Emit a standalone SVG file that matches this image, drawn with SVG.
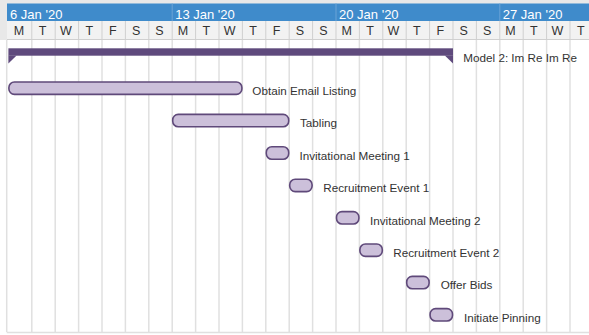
<svg xmlns="http://www.w3.org/2000/svg" width="589" height="335" viewBox="0 0 589 335">
<style>
.wk{font-family:"Liberation Sans",Arial,sans-serif;font-size:13px;fill:#ffffff}
.dy{font-family:"Liberation Sans",Arial,sans-serif;font-size:12.5px;fill:#333333;text-anchor:middle}
.lb{font-family:"Liberation Sans",Arial,sans-serif;font-size:11.7px;fill:#333333}
.grid line{stroke:#e0e0e0;stroke-width:1.5}
.hsep line{stroke:#cfcfcf;stroke-width:1}
.wsep line{stroke:#6aa3d6;stroke-width:1}
.task{fill:#ccc0da;stroke:#5f497a;stroke-width:1.6}
.sum{fill:#5f4a7d}
</style>
<rect x="0" y="0" width="589" height="335" fill="#ffffff"/>
<g id="header">
<rect x="0" y="0" width="589" height="40" fill="#e8e8e8"/>
<rect x="7" y="3.5" width="582" height="17.5" fill="#3f8bcb"/>
<rect x="7" y="21" width="582" height="18.5" fill="#f2f2f2"/>
<line x1="7" y1="39.5" x2="589" y2="39.5" stroke="#d0d0d0" stroke-width="1"/>
<g class="wsep">
<line x1="172.2" y1="3.5" x2="172.2" y2="21"/>
<line x1="336" y1="3.5" x2="336" y2="21"/>
<line x1="499.8" y1="3.5" x2="499.8" y2="21"/>
</g>
<g class="hsep">
<line x1="31.8" y1="21" x2="31.8" y2="39.5"/><line x1="55.2" y1="21" x2="55.2" y2="39.5"/><line x1="78.6" y1="21" x2="78.6" y2="39.5"/><line x1="102" y1="21" x2="102" y2="39.5"/><line x1="125.4" y1="21" x2="125.4" y2="39.5"/><line x1="148.8" y1="21" x2="148.8" y2="39.5"/><line x1="172.2" y1="21" x2="172.2" y2="39.5"/><line x1="195.6" y1="21" x2="195.6" y2="39.5"/><line x1="219" y1="21" x2="219" y2="39.5"/><line x1="242.4" y1="21" x2="242.4" y2="39.5"/><line x1="265.8" y1="21" x2="265.8" y2="39.5"/><line x1="289.2" y1="21" x2="289.2" y2="39.5"/><line x1="312.6" y1="21" x2="312.6" y2="39.5"/><line x1="336" y1="21" x2="336" y2="39.5"/><line x1="359.4" y1="21" x2="359.4" y2="39.5"/><line x1="382.8" y1="21" x2="382.8" y2="39.5"/><line x1="406.2" y1="21" x2="406.2" y2="39.5"/><line x1="429.6" y1="21" x2="429.6" y2="39.5"/><line x1="453" y1="21" x2="453" y2="39.5"/><line x1="476.4" y1="21" x2="476.4" y2="39.5"/><line x1="499.8" y1="21" x2="499.8" y2="39.5"/><line x1="523.2" y1="21" x2="523.2" y2="39.5"/><line x1="546.6" y1="21" x2="546.6" y2="39.5"/><line x1="570" y1="21" x2="570" y2="39.5"/>
</g>
<text class="wk" x="10" y="18.5">6 Jan '20</text>
<text class="wk" x="175.2" y="18.5">13 Jan '20</text>
<text class="wk" x="339" y="18.5">20 Jan '20</text>
<text class="wk" x="502.8" y="18.5">27 Jan '20</text>
<text class="dy" x="19" y="35">M</text><text class="dy" x="42.5" y="35">T</text><text class="dy" x="65.9" y="35">W</text><text class="dy" x="89.3" y="35">T</text><text class="dy" x="112.7" y="35">F</text><text class="dy" x="136.1" y="35">S</text><text class="dy" x="159.5" y="35">S</text>
<text class="dy" x="182.9" y="35">M</text><text class="dy" x="206.3" y="35">T</text><text class="dy" x="229.7" y="35">W</text><text class="dy" x="253.1" y="35">T</text><text class="dy" x="276.5" y="35">F</text><text class="dy" x="299.9" y="35">S</text><text class="dy" x="323.3" y="35">S</text>
<text class="dy" x="346.7" y="35">M</text><text class="dy" x="370.1" y="35">T</text><text class="dy" x="393.5" y="35">W</text><text class="dy" x="416.9" y="35">T</text><text class="dy" x="440.3" y="35">F</text><text class="dy" x="463.7" y="35">S</text><text class="dy" x="487.1" y="35">S</text>
<text class="dy" x="510.5" y="35">M</text><text class="dy" x="533.9" y="35">T</text><text class="dy" x="557.3" y="35">W</text><text class="dy" x="580.7" y="35">T</text>
</g>
<g id="grid" class="grid">
<line x1="6.7" y1="40" x2="6.7" y2="332"/>
<line x1="31.8" y1="40" x2="31.8" y2="332"/><line x1="55.2" y1="40" x2="55.2" y2="332"/><line x1="78.6" y1="40" x2="78.6" y2="332"/><line x1="102" y1="40" x2="102" y2="332"/><line x1="125.4" y1="40" x2="125.4" y2="332"/><line x1="148.8" y1="40" x2="148.8" y2="332"/><line x1="172.2" y1="40" x2="172.2" y2="332"/><line x1="195.6" y1="40" x2="195.6" y2="332"/><line x1="219" y1="40" x2="219" y2="332"/><line x1="242.4" y1="40" x2="242.4" y2="332"/><line x1="265.8" y1="40" x2="265.8" y2="332"/><line x1="289.2" y1="40" x2="289.2" y2="332"/><line x1="312.6" y1="40" x2="312.6" y2="332"/><line x1="336" y1="40" x2="336" y2="332"/><line x1="359.4" y1="40" x2="359.4" y2="332"/><line x1="382.8" y1="40" x2="382.8" y2="332"/><line x1="406.2" y1="40" x2="406.2" y2="332"/><line x1="429.6" y1="40" x2="429.6" y2="332"/><line x1="453" y1="40" x2="453" y2="332"/><line x1="476.4" y1="40" x2="476.4" y2="332"/><line x1="499.8" y1="40" x2="499.8" y2="332"/><line x1="523.2" y1="40" x2="523.2" y2="332"/><line x1="546.6" y1="40" x2="546.6" y2="332"/><line x1="570" y1="40" x2="570" y2="332"/>
<line x1="6.7" y1="332.5" x2="589" y2="332.5" stroke="#d8d8d8"/>
</g>
<g id="summary">
<rect class="sum" x="8.4" y="48.3" width="444.6" height="7.4"/>
<polygon class="sum" points="8.4,55.5 8.4,63.5 16.6,55.5"/>
<polygon class="sum" points="453,55.5 453,63.5 444.8,55.5"/>
<text class="lb" x="463.3" y="61.7">Model 2: Im Re Im Re</text>
</g>
<g id="obtain-email-listing">
<rect class="task" x="8.9" y="82" width="233" height="12.4" rx="5.5"/>
<text class="lb" x="252.3" y="95">Obtain Email Listing</text>
</g>
<g id="tabling">
<rect class="task" x="172.7" y="114.4" width="116" height="12.4" rx="5.5"/>
<text class="lb" x="300" y="127.4">Tabling</text>
</g>
<g id="invitational-meeting-1">
<rect class="task" x="266.3" y="146.8" width="22.4" height="12.4" rx="5.5"/>
<text class="lb" x="299.4" y="159.8">Invitational Meeting 1</text>
</g>
<g id="recruitment-event-1">
<rect class="task" x="289.7" y="179.2" width="22.4" height="12.4" rx="5.5"/>
<text class="lb" x="323.3" y="192.2">Recruitment Event 1</text>
</g>
<g id="invitational-meeting-2">
<rect class="task" x="336.5" y="211.6" width="22.4" height="12.4" rx="5.5"/>
<text class="lb" x="370" y="224.6">Invitational Meeting 2</text>
</g>
<g id="recruitment-event-2">
<rect class="task" x="359.9" y="244" width="22.4" height="12.4" rx="5.5"/>
<text class="lb" x="393.3" y="257">Recruitment Event 2</text>
</g>
<g id="offer-bids">
<rect class="task" x="406.7" y="276.4" width="22.4" height="12.4" rx="5.5"/>
<text class="lb" x="440.7" y="289.4">Offer Bids</text>
</g>
<g id="initiate-pinning">
<rect class="task" x="430.1" y="308.6" width="22.4" height="12.4" rx="5.5"/>
<text class="lb" x="464" y="321.6">Initiate Pinning</text>
</g>
<g id="connectors"></g>
</svg>
